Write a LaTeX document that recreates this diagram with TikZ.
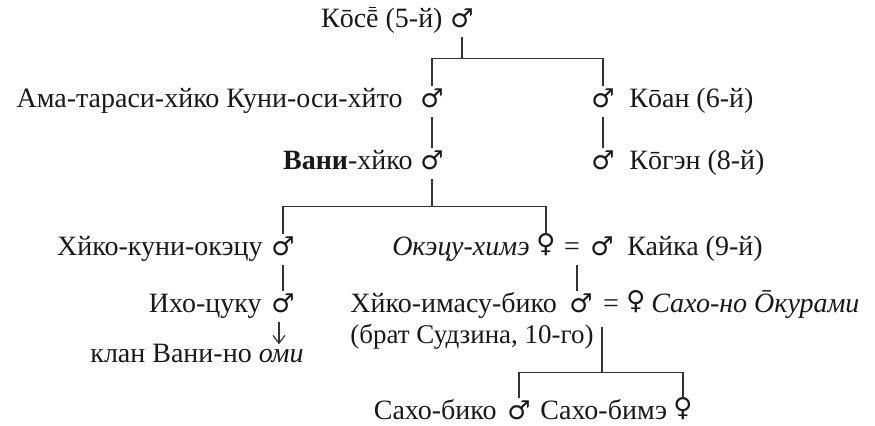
\documentclass[tikz,border=0pt]{standalone}
\usepackage{fontspec}
\setmainfont{Liberation Serif}
\newfontfamily\symfont{DejaVu Sans}
\usetikzlibrary{arrows.meta,calc}
\newcommand\symM{\makebox[0pt]{\symfont\fontsize{13}{15}\selectfont ♂}}
\newcommand\symF{\makebox[0pt]{\raisebox{1.6pt}{\symfont\fontsize{13}{15}\selectfont ♀}}}
\newcommand\dmac{\leavevmode\setbox0\hbox{ē}\rlap{\hbox to\wd0{\hss\raisebox{0.70em}{\rule{0.27em}{0.045em}}\hss}}\box0}
\begin{document}
\begin{tikzpicture}[x=0.5pt,y=-0.5pt,
  every node/.style={inner sep=0pt, font=\fontsize{14}{16}\selectfont, text=black!90},
  txtl/.style={anchor=base east},
  txtr/.style={anchor=base west},
  sym/.style={anchor=base, text height=11pt, text depth=4.5pt},
  ln/.style={line width=0.6pt, draw=black!80}]
\useasboundingbox (0,0) rectangle (875,426);
% row 1
\node[txtl] (kose) at (443,28) {Кōс\dmac{} (5-й)};
\node[sym] (kosem) at (462,28) {\symM};
% row 2
\node[txtl] (ama) at (403,108) {Ама-тараси-хйко Куни-оси-хйто};
\node[sym] (amam) at (432,108) {\symM};
\node[sym] (koanm) at (603,108) {\symM};
\node[txtr] (koan) at (629,108) {Кōан (6-й)};
% row 3
\node[txtl] (vani) at (413,170) {\textbf{Вани}-хйко};
\node[sym] (vanim) at (432,170) {\symM};
\node[sym] (kogenm) at (603,170) {\symM};
\node[txtr] (kogen) at (629,170) {Кōгэн (8-й)};
% row 4
\node[txtl] (hiko) at (263,256) {Хйко-куни-окэцу};
\node[sym] (hikom) at (283,256) {\symM};
\node[txtl] (okecu) at (530,256) {\textit{Окэцу-химэ}};
\node[sym] (okecuf) at (546,256) {\symF};
\node[sym] (eq1) at (572,256) {=};
\node[sym] (kaikam) at (602,256) {\symM};
\node[txtr] (kaika) at (627,256) {Кайка (9-й)};
% row 5
\node[txtl] (iho) at (262,313) {Ихо-цуку};
\node[sym] (ihom) at (283,313) {\symM};
\node[txtr] (himasu) at (350,313) {Хйко-имасу-бико};
\node[sym] (himasum) at (581,313) {\symM};
\node[sym] (eq2) at (611,313) {=};
\node[sym] (okuraf) at (636,313) {\symF};
\node[txtr] (okura) at (651,313) {\textit{Сахо-но Ōкурами}};
% row 6
\node[txtr, font=\fontsize{13.5}{16}\selectfont] (brat) at (350,344) {(брат Судзина, 10-го)};
\node[txtr] (klan) at (90,363) {клан Вани-но \textit{оми}};
% row 7
\node[txtl] (sbiko) at (497,420) {Сахо-бико};
\node[sym] (sbikom) at (519,420) {\symM};
\node[txtr] (sbime) at (540,420) {Сахо-бимэ};
\node[sym] (sbimef) at (683,420) {\symF};
% connectors
\coordinate (b1) at ($(kosem.south)+(0,21)$);
\draw[ln] (kosem.south) -- (b1);
\draw[ln] (amam.north) |- (b1) -| (koanm.north);
\draw[ln] (amam.south) -- (vanim.north);
\draw[ln] (koanm.south) -- (kogenm.north);
\coordinate (b2) at ($(vanim.south)+(0,27)$);
\draw[ln] (vanim.south) -- (b2);
\draw[ln] (hikom.north) |- (b2) -| (okecuf.north);
\draw[ln] (hikom.south) -- (ihom.north);
\path ([xshift=2.5pt]eq1.south) coordinate (m1);
\draw[ln] (m1) -- (m1 |- himasum.north);
\path ([xshift=-2pt]ihom.south) coordinate (m2);
\draw[ln,-{Straight Barb[length=4pt,width=6pt]}] (m2) -- (m2 |- klan.north);
\path ([xshift=-4.5pt,yshift=-2.5pt]eq2.south) coordinate (m3);
\coordinate (b3) at ($(m3)+(0,45)$);
\draw[ln] (m3) -- (b3);
\draw[ln] (sbikom.north) |- (b3) -| (sbimef.north);
\end{tikzpicture}
\end{document}
